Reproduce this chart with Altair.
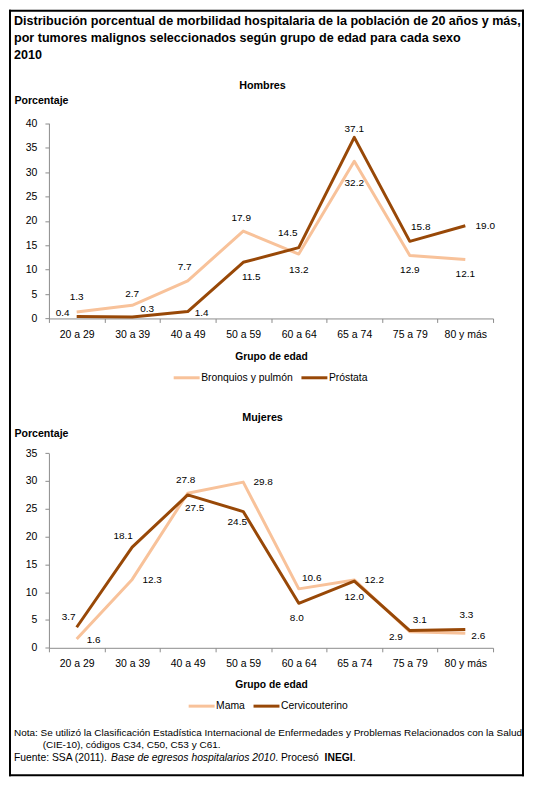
import altair as alt
import pandas as pd

# ---------------- data ----------------
GRUPOS = ["20 a 29", "30 a 39", "40 a 49", "50 a 59", "60 a 64", "65 a 74", "75 a 79", "80 y más"]

H_SERIES = ["Bronquios y pulmón", "Próstata"]
H_BRONQUIOS = [1.3, 2.7, 7.7, 17.9, 13.2, 32.2, 12.9, 12.1]
H_PROSTATA = [0.4, 0.3, 1.4, 11.5, 14.5, 37.1, 15.8, 19.0]

M_SERIES = ["Mama", "Cervicouterino"]
M_MAMA = [1.6, 12.3, 27.8, 29.8, 10.6, 12.2, 2.9, 2.6]
M_CERVICO = [3.7, 18.1, 27.5, 24.5, 8.0, 12.0, 3.1, 3.3]

H_TICKS = [0, 5, 10, 15, 20, 25, 30, 35, 40]
M_TICKS = [0, 5, 10, 15, 20, 25, 30, 35]

# data-label placement (pixel offsets from each point)
H_BRONQUIOS_LBL = [(0, -15), (0, -11), (-3, -14), (-2, -13), (0, 16), (0, 22), (0, 15), (0, 15)]
H_PROSTATA_LBL = [(-14, -3), (15, -8), (14, 1), (8, 15), (-11, -15), (0, -8), (11, -14), (20, 0)]
M_MAMA_LBL = [(17, 1), (20, 1), (-2, -13), (20, 0), (13, -11), (20, 0), (-14, 5), (13, 3)]
M_CERVICO_LBL = [(-8, -10), (-9, -11), (7, 13), (-6, 10), (-2, 15), (0, 16), (10, -11), (1, -14)]

LIGHT = "#F8C29A"
DARK = "#984807"
AXIS_GRAY = "#8C8C8C"
FONT = "Liberation Sans"

W, H = 516, 768


def long_df(names, values, offsets):
    rows = []
    for name, vals, offs in zip(names, values, offsets):
        for g, v, (dx, dy) in zip(GRUPOS, vals, offs):
            rows.append({"grupo": g, "serie": name, "valor": v,
                         "etiqueta": f"{v:.1f}", "ldx": dx, "ldy": dy})
    return pd.DataFrame(rows)


df_h = long_df(H_SERIES, [H_BRONQUIOS, H_PROSTATA], [H_BRONQUIOS_LBL, H_PROSTATA_LBL])
df_m = long_df(M_SERIES, [M_MAMA, M_CERVICO], [M_MAMA_LBL, M_CERVICO_LBL])

ONE = pd.DataFrame({"k": [0]})


def panel(df, series, ymax, yticks, yrange, xoffset, ytitle_y, xtitle_y, leg_x, leg_y):
    xaxis = alt.Axis(orient="bottom", offset=xoffset, title="Grupo de edad",
                     titleY=xtitle_y, titleBaseline="alphabetic", titleFont=FONT,
                     titleFontSize=10.3, titleFontWeight="bold", titleColor="black",
                     labelAngle=0, tickBand="extent", tickSize=4, labelPadding=7,
                     labelFont=FONT, labelFontSize=10.5, labelColor="black",
                     domainColor=AXIS_GRAY, tickColor=AXIS_GRAY, grid=False)
    yaxis = alt.Axis(orient="left", offset=-40, values=yticks, title="Porcentaje",
                     titleAngle=0, titleAlign="left", titleBaseline="alphabetic",
                     titleX=-35, titleY=ytitle_y, titleFont=FONT, titleFontSize=10.6,
                     titleFontWeight="bold", titleColor="black",
                     tickSize=4, labelPadding=8, labelFont=FONT, labelFontSize=10.5,
                     labelColor="black", domainColor=AXIS_GRAY, tickColor=AXIS_GRAY,
                     grid=False)
    x = alt.X("grupo:N", sort=GRUPOS, bandPosition=0.5,
              scale=alt.Scale(type="band", domain=GRUPOS, range=[40, 485],
                              paddingInner=0, paddingOuter=0),
              axis=xaxis)
    y = alt.Y("valor:Q", scale=alt.Scale(domain=[0, ymax], range=yrange, nice=False),
              axis=yaxis)
    color = alt.Color("serie:N", sort=series,
                      scale=alt.Scale(domain=series, range=[LIGHT, DARK]),
                      legend=alt.Legend(orient="none", legendX=leg_x, legendY=leg_y,
                                        direction="horizontal", title=None,
                                        symbolType="stroke", symbolSize=676,
                                        symbolStrokeWidth=3, labelOffset=0,
                                        columnPadding=2, padding=0,
                                        labelFont=FONT, labelFontSize=10.4,
                                        labelColor="black"))
    lines = alt.Chart(df).mark_line(strokeWidth=3, strokeJoin="round").encode(
        x=x, y=y, color=color)
    labels = alt.Chart(df).mark_text(
        font=FONT, fontSize=10, color="black", baseline="middle", align="center",
        dx=alt.ExprRef(expr="datum.ldx"), dy=alt.ExprRef(expr="datum.ldy")
    ).encode(
        x=alt.X("grupo:N", sort=GRUPOS, bandPosition=0.5),
        y=alt.Y("valor:Q"),
        text=alt.Text("etiqueta:N"))
    return alt.layer(lines, labels)


hombres = panel(df_h, H_SERIES, 40, H_TICKS, [309.3, 113.7], 309.3 - H,
                94, 41, 163.5, 354)
mujeres = panel(df_m, M_SERIES, 35, M_TICKS, [639.3, 444.3], 639.3 - H,
                427.5, 40, 178.5, 683)


def txt(text, x, y, size, weight="normal", style="normal", align="left"):
    return alt.Chart(ONE).mark_text(
        font=FONT, fontSize=size, fontWeight=weight, fontStyle=style,
        align=align, baseline="alphabetic", color="black"
    ).encode(x=alt.value(x), y=alt.value(y), text=alt.value(text))


TITLE_LINES = [
    "Distribución porcentual de morbilidad hospitalaria de la población de 20 años y más,",
    "por tumores malignos seleccionados según grupo de edad para cada sexo",
    "2010",
]
FS_NOTE = 10.35
texts = [
    txt(TITLE_LINES[0], 5, 15.5, 12.6, "bold"),
    txt(TITLE_LINES[1], 5, 32.5, 12.6, "bold"),
    txt(TITLE_LINES[2], 5, 49.5, 12.6, "bold"),
    txt("Hombres", 254, 79, 10.8, "bold", align="center"),
    txt("Mujeres", 254, 412.5, 10.8, "bold", align="center"),
    txt("Nota: Se utilizó la Clasificación Estadística Internacional de Enfermedades y Problemas Relacionados con la Salud",
        5, 728, 10),
    txt("(CIE-10), códigos C34, C50, C53 y C61.", 33.7, 740, 10),
    txt("Fuente: SSA (2011). ", 5, 753, FS_NOTE),
    txt("Base de egresos hospitalarios 2010", 102.2, 753, FS_NOTE, style="italic"),
    txt(" . Procesó ", 266.7, 753, FS_NOTE),
    txt("INEGI", 316.2, 753, FS_NOTE, "bold"),
    txt(".", 344.4, 753, FS_NOTE),
]


def rule(**enc):
    return alt.Chart(ONE).mark_rule(color="black", strokeWidth=2).encode(**enc)


frame = [
    rule(x=alt.value(0), x2=alt.value(W), y=alt.value(1)),
    rule(x=alt.value(0), x2=alt.value(W), y=alt.value(H - 1)),
    rule(x=alt.value(1), y=alt.value(0), y2=alt.value(H)),
    rule(x=alt.value(W - 1), y=alt.value(0), y2=alt.value(H)),
]

chart = alt.layer(
    *frame, hombres, mujeres, *texts
).resolve_scale(
    x="independent", y="independent", color="independent"
).properties(
    width=W, height=H, padding=0, background="white"
).configure_view(strokeWidth=0)

chart.save("out.html", embed_options={"renderer": "svg", "actions": False})
